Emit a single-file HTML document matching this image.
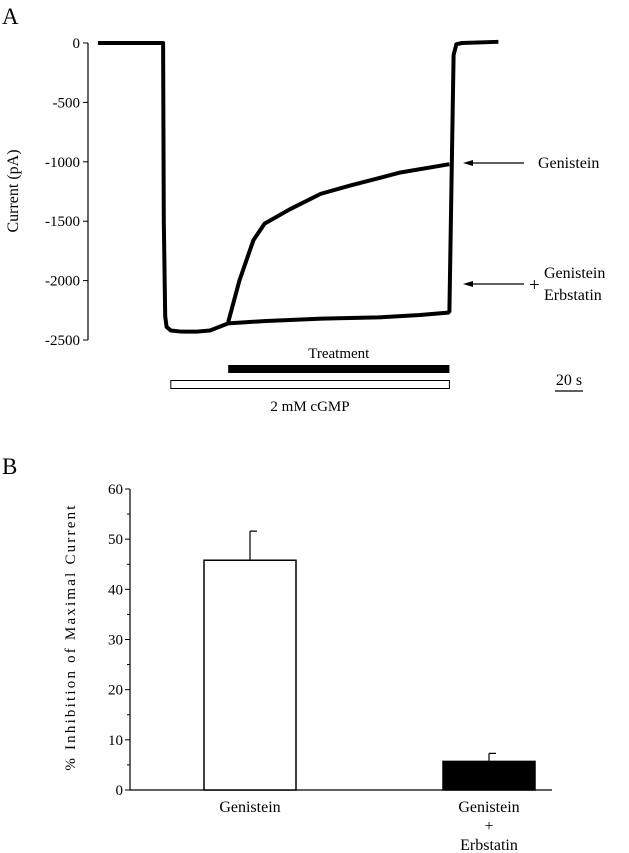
<!DOCTYPE html>
<html><head><meta charset="utf-8"><style>
body{margin:0;background:#fff;}
svg{display:block;font-family:"Liberation Serif",serif;}
</style></head><body>
<svg id="fig" width="629" height="853" viewBox="0 0 629 853">
<text x="2" y="24" font-size="23">A</text>
<g id="pa"></g>
<text x="2" y="474" font-size="23">B</text>
<g id="pb"></g>
</svg>
<script>
const NS="http://www.w3.org/2000/svg";
function mk(p,t,a){const e=document.createElementNS(NS,t);for(const k in a)e.setAttribute(k,a[k]);p.appendChild(e);return e;}
// Panel A data
const aTicks=[0,-500,-1000,-1500,-2000,-2500];
const ctrlT=[0,46.5,47,48,49,52,60,70,80,93,120,160,200,230,250,251,254,256,260,286];
const ctrlI=[0,0,-1500,-2300,-2390,-2420,-2430,-2430,-2420,-2360,-2340,-2320,-2310,-2290,-2270,-2260,-100,-10,0,10];
const genT=[93,101,111,119,137,159,180,216,251];
const genI=[-2350,-2000,-1660,-1520,-1400,-1270,-1200,-1090,-1020];
const treat=[93,251];
const cgmp=[52,251];
const xA=t=>98+t*1.4;
const yA=v=>43+(-v)/2500*297;
const pa=document.getElementById('pa');
let e=mk(pa,'line',{x1:88,y1:43,x2:88,y2:340,stroke:'#000','stroke-width':1.2});


aTicks.forEach(v=>{
 const l=mk(pa,'line',{x1:83,y1:yA(v),x2:88,y2:yA(v),stroke:'#000'});
 
 
 const t=mk(pa,'text',{x:80,y:yA(v)+5,'font-size':15,'text-anchor':'end'});t.textContent=v;
 
 
});
e=mk(pa,'text',{x:0,y:0,'font-size':16,'text-anchor':'middle',transform:'translate(18,191) rotate(-90)'});e.textContent='Current (pA)';


e=mk(pa,'polyline',{points:ctrlT.map((t,i)=>xA(t)+','+yA(ctrlI[i])).join(' '),fill:'none',stroke:'#000','stroke-width':4,'stroke-linejoin':'round'});


e=mk(pa,'polyline',{points:genT.map((t,i)=>xA(t)+','+yA(genI[i])).join(' '),fill:'none',stroke:'#000','stroke-width':4,'stroke-linejoin':'round'});


[[163,'genistein-arrow'],[284,'erbstatin-arrow']].forEach(([y,n])=>{
 const g=mk(pa,'g',{});
 
 
 mk(g,'line',{x1:470,y1:y,x2:524,y2:y,stroke:'#000','stroke-width':1.2});
 mk(g,'polygon',{points:`463,${y} 473,${y-3} 473,${y+3}`,fill:'#000'});
});
e=mk(pa,'text',{x:538,y:168,'font-size':16});e.textContent='Genistein';


e=mk(pa,'text',{x:529,y:291,'font-size':19});e.textContent='+';


e=mk(pa,'text',{x:544,y:278,'font-size':16});e.textContent='Genistein';


e=mk(pa,'text',{x:544,y:300,'font-size':16});e.textContent='Erbstatin';


e=mk(pa,'rect',{x:xA(treat[0]),y:365,width:xA(treat[1])-xA(treat[0]),height:8,fill:'#000'});


e=mk(pa,'text',{x:(xA(treat[0])+xA(treat[1]))/2,y:358,'font-size':15,'text-anchor':'middle'});e.textContent='Treatment';


e=mk(pa,'rect',{x:xA(cgmp[0]),y:380.5,width:xA(cgmp[1])-xA(cgmp[0]),height:8,fill:'#fff',stroke:'#000','stroke-width':1});


e=mk(pa,'text',{x:310,y:411,'font-size':15,'text-anchor':'middle'});e.textContent='2 mM cGMP';


e=mk(pa,'line',{x1:555,y1:391,x2:555+20*1.4,y2:391,stroke:'#000','stroke-width':1.2});


e=mk(pa,'text',{x:569,y:385,'font-size':16,'text-anchor':'middle'});e.textContent='20 s';


// Panel B data
const bCats=['Genistein','Genistein + Erbstatin'];
const bVals=[45.8,5.7];
const bErr=[5.8,1.6];
const bTicks=[0,10,20,30,40,50,60];
const yB=v=>790-v/60*301;
const pb=document.getElementById('pb');
e=mk(pb,'line',{x1:130,y1:yB(60),x2:130,y2:790,stroke:'#000','stroke-width':1.2});


e=mk(pb,'line',{x1:130,y1:790,x2:552,y2:790,stroke:'#000','stroke-width':1.2});


for(let v=0;v<=60;v+=5){const l=mk(pb,'line',{x1:v%10?127:125,y1:yB(v),x2:130,y2:yB(v),stroke:'#000'});
 
 }
bTicks.forEach(v=>{const t=mk(pb,'text',{x:123,y:yB(v)+5,'font-size':15,'text-anchor':'end'});t.textContent=v;
 
 });
e=mk(pb,'text',{x:0,y:0,'font-size':15,'text-anchor':'middle','letter-spacing':'2.2',transform:'translate(75,637) rotate(-90)'});e.textContent='% Inhibition of Maximal Current';


const cx=[250,489];
bCats.forEach((c,i)=>{
 const b=mk(pb,'rect',{x:cx[i]-46,y:yB(bVals[i]),width:92,height:790-yB(bVals[i]),fill:i?'#000':'#fff',stroke:'#000','stroke-width':1.5});
 
 
 const eb=mk(pb,'path',{d:`M${cx[i]},${yB(bVals[i])} V${yB(bVals[i]+bErr[i])} M${cx[i]},${yB(bVals[i]+bErr[i])} H${cx[i]+7}`,stroke:'#000',fill:'none','stroke-width':1.2});
 
 
 const parts=c.split(' + ');
 parts.forEach((p,j)=>{
  const t=mk(pb,'text',{x:cx[i],y:812+j*38,'font-size':16,'text-anchor':'middle'});t.textContent=p;
  
  
 });
 if(parts.length>1){const t=mk(pb,'text',{x:cx[i],y:831,'font-size':16,'text-anchor':'middle'});t.textContent='+';
  
  }
});
</script>
</body></html>
